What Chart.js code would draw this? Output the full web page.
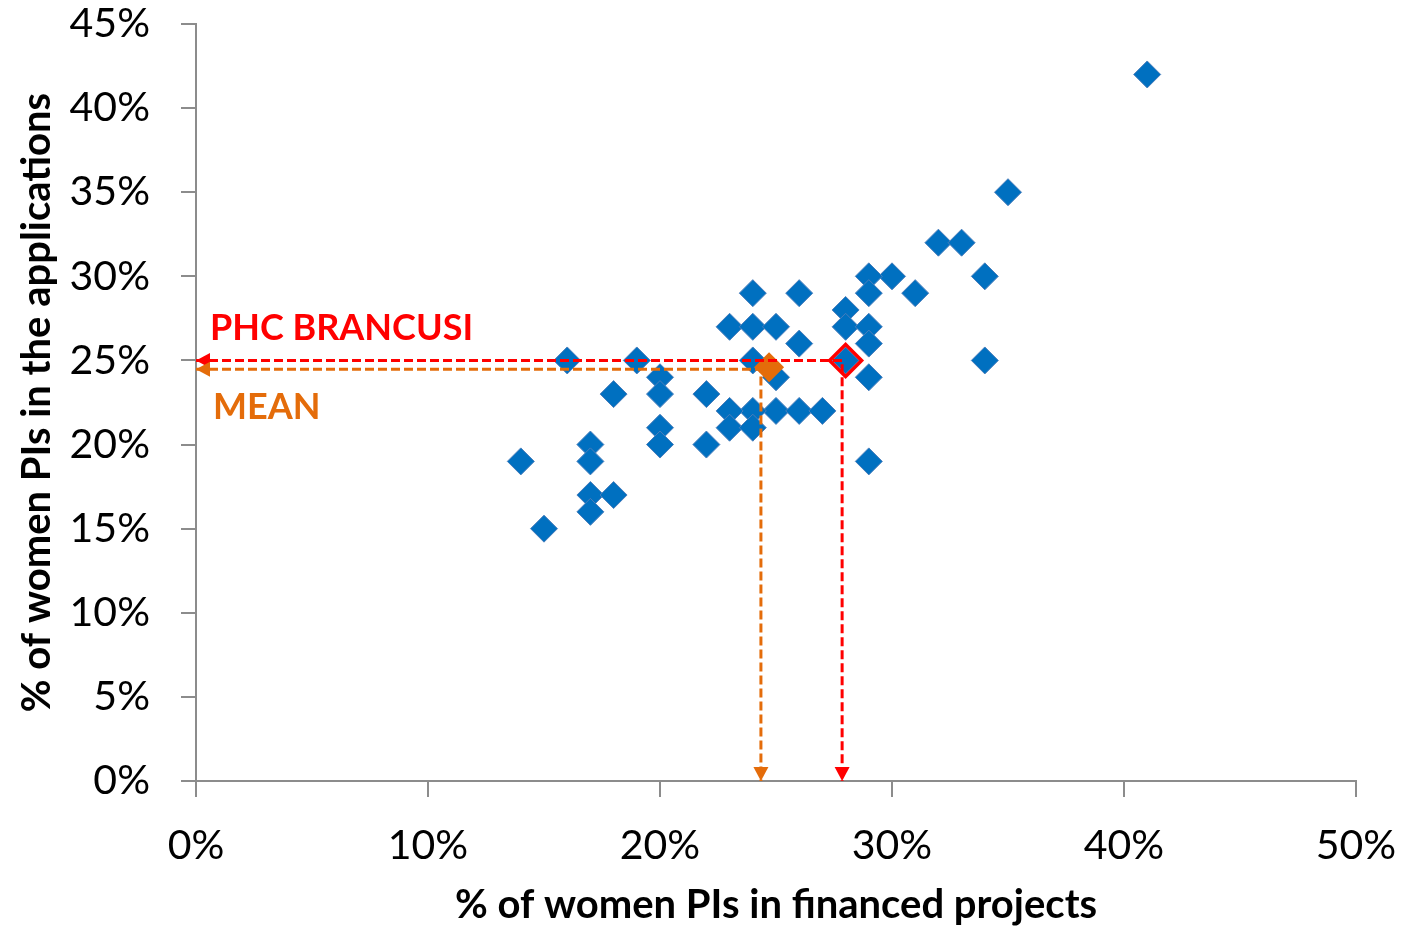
<!DOCTYPE html>
<html>
<head>
<meta charset="utf-8">
<script src="https://cdn.jsdelivr.net/npm/chart.js@4.4.1/dist/chart.umd.min.js"></script>
<style>
  html, body { margin: 0; padding: 0; background: #ffffff; }
  #wrap { width: 1407px; height: 929px; }
</style>
</head>
<body>
<div id="wrap"><canvas id="c" width="1407" height="929"></canvas></div>
<script>
// ---- Data (values in %) ----
const financedPct = [41, 35, 32, 33, 34, 34, 30, 29, 29, 31, 28, 28, 29, 29, 28, 29, 29,
                     23, 24, 24, 25, 26, 26, 24, 25, 25, 26, 27, 24, 23, 23, 24, 22, 22,
                     20, 20, 20, 20, 19, 16, 18, 17, 17, 17, 18, 17, 14, 15];
const applicationsPct = [42, 35, 32, 32, 30, 25, 30, 30, 29, 29, 28, 27, 27, 26, 25, 24, 19,
                         27, 29, 27, 27, 29, 26, 25, 24, 22, 22, 22, 22, 22, 21, 21, 23, 20,
                         24, 23, 21, 20, 25, 25, 23, 20, 19, 17, 17, 16, 19, 15];
const brancusiPoint = [28, 25];
const brancusiGuide = [27.85, 25];
const meanPoint = [24.7, 24.6];
const meanGuide = [24.35, 24.47];
const xTicks = [0, 10, 20, 30, 40, 50];
const yTicks = [0, 5, 10, 15, 20, 25, 30, 35, 40, 45];
const xTitle = '% of women PIs in financed projects';
const yTitle = '% of women PIs in the applications';
const labelBrancusi = 'PHC BRANCUSI';
const labelMean = 'MEAN';

const BLUE = '#0070C0', RED = '#FF0000', ORANGE = '#E46C0A', AXIS = '#8C8C8C';

const points = financedPct.map((x, i) => ({ x: x, y: applicationsPct[i] }));
const guide = g => [{ x: 0, y: g[1] }, { x: g[0], y: g[1] }, { x: g[0], y: 0 }];

const arrowPlugin = {
  id: 'arrows',
  afterDatasetsDraw(chart) {
    const ctx = chart.ctx;
    chart.data.datasets.forEach((ds, i) => {
      if (!ds.arrowEnds) return;
      const pts = chart.getDatasetMeta(i).data;
      const n = pts.length;
      const heads = [[pts[0], pts[1]], [pts[n - 1], pts[n - 2]]];
      ctx.save();
      ctx.fillStyle = ds.borderColor;
      heads.forEach(([tip, from]) => {
        const a = Math.atan2(tip.y - from.y, tip.x - from.x);
        const L = 14, W = 7.5;
        ctx.beginPath();
        ctx.moveTo(tip.x, tip.y);
        ctx.lineTo(tip.x - L * Math.cos(a) + W * Math.sin(a), tip.y - L * Math.sin(a) - W * Math.cos(a));
        ctx.lineTo(tip.x - L * Math.cos(a) - W * Math.sin(a), tip.y - L * Math.sin(a) + W * Math.cos(a));
        ctx.closePath();
        ctx.fill();
      });
      ctx.restore();
    });
  }
};

const labelPlugin = {
  id: 'labels',
  afterDraw(chart) {
    const ctx = chart.ctx, xs = chart.scales.x, ys = chart.scales.y;
    ctx.save();
    ctx.font = 'bold 36px Lato';
    ctx.textBaseline = 'alphabetic';
    ctx.textAlign = 'left';
    ctx.fillStyle = RED;
    ctx.fillText(labelBrancusi, xs.getPixelForValue(0.6), ys.getPixelForValue(26.2));
    ctx.fillStyle = ORANGE;
    ctx.fillText(labelMean, xs.getPixelForValue(0.73), ys.getPixelForValue(21.5));
    ctx.restore();
  }
};

new Chart(document.getElementById('c'), {
  type: 'scatter',
  data: {
    datasets: [
      { label: 'PHC BRANCUSI', data: [{ x: brancusiPoint[0], y: brancusiPoint[1] }], order: 0,
        pointStyle: 'rectRot', pointRadius: 16, pointBorderWidth: 3.5,
        borderColor: RED, backgroundColor: 'rgba(0,0,0,0)', pointHoverRadius: 16 },
      { label: 'brancusi guide', data: guide(brancusiGuide), order: 1, showLine: true,
        borderColor: RED, borderWidth: 3, borderDash: [9, 4], pointRadius: 0,
        pointHoverRadius: 0, fill: false, arrowEnds: true },
      { label: 'mean guide', data: guide(meanGuide), order: 2, showLine: true,
        borderColor: ORANGE, borderWidth: 3, borderDash: [9, 4], pointRadius: 0,
        pointHoverRadius: 0, fill: false, arrowEnds: true },
      { label: 'MEAN', data: [{ x: meanPoint[0], y: meanPoint[1] }], order: 3,
        pointStyle: 'rectRot', pointRadius: 15, pointBorderWidth: 0,
        backgroundColor: ORANGE, borderColor: ORANGE },
      { label: 'Programmes', data: points, order: 4,
        pointStyle: 'rectRot', pointRadius: 13.5, pointBorderWidth: 1,
        backgroundColor: BLUE, borderColor: '#4A7EBB', pointHoverRadius: 13.5 }
    ]
  },
  options: {
    responsive: false,
    animation: false,
    devicePixelRatio: 1,
    layout: { padding: 0 },
    plugins: { legend: { display: false }, tooltip: { enabled: false } },
    scales: {
      x: {
        type: 'linear', min: 0, max: 50,
        afterFit: s => { s.height = 148; s.paddingLeft = 0; s.paddingRight = 51; },
        afterBuildTicks: s => { s.ticks = xTicks.map(v => ({ value: v })); },
        border: { color: AXIS, width: 2 },
        grid: { drawOnChartArea: false, drawTicks: true, tickLength: 16, color: AXIS, lineWidth: 2 },
        ticks: { padding: 24, color: '#000', font: { family: 'Lato', size: 41 },
                 callback: v => v + '%', maxRotation: 0 },
        title: { display: true, text: xTitle, color: '#000', padding: { top: 0, bottom: 0 },
                 font: { family: 'Lato', size: 40, weight: 'bold' } }
      },
      y: {
        type: 'linear', min: 0, max: 45,
        afterFit: s => { s.width = 196; s.paddingTop = 24; s.paddingBottom = 0; },
        afterBuildTicks: s => { s.ticks = yTicks.map(v => ({ value: v })); },
        border: { color: AXIS, width: 2 },
        grid: { drawOnChartArea: false, drawTicks: true, tickLength: 15, color: AXIS, lineWidth: 2 },
        ticks: { padding: 31, color: '#000', font: { family: 'Lato', size: 41 },
                 callback: v => v + '%' },
        title: { display: true, text: yTitle, color: '#000', padding: { top: 13, bottom: 0 },
                 font: { family: 'Lato', size: 40, weight: 'bold' } }
      }
    }
  },
  plugins: [arrowPlugin, labelPlugin]
});
</script>
</body>
</html>
